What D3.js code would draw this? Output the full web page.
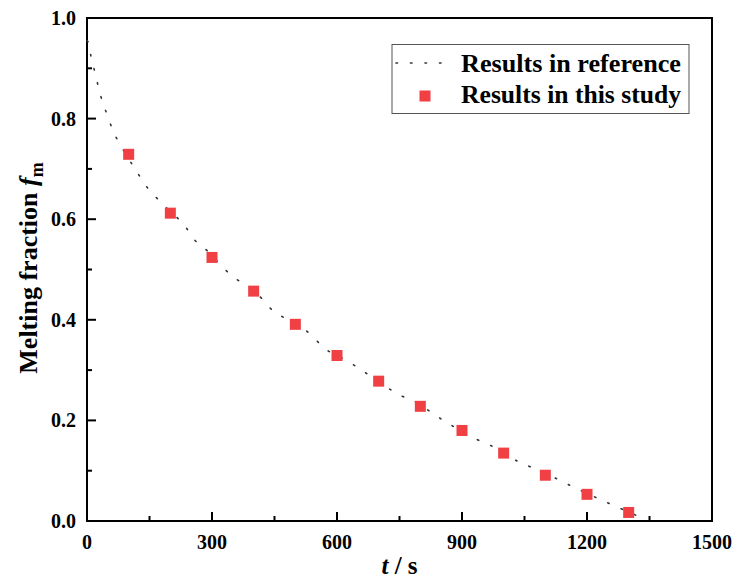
<!DOCTYPE html>
<html><head><meta charset="utf-8">
<script src="https://cdn.jsdelivr.net/npm/d3@7/dist/d3.min.js"></script>
<style>body{margin:0;background:#fff}svg{display:block}text{font-family:"Liberation Serif","Times New Roman",serif;font-weight:bold}</style>
</head><body>
<script>
const refT = [0, 4.8, 10.3, 20, 28, 37.7, 51, 61.7, 79, 100, 120.8, 139, 163, 189, 239, 256, 285, 335, 421, 446, 478, 538, 565, 629, 659, 719, 754, 783, 842, 875, 941, 974, 1035, 1069, 1137, 1166, 1234, 1269, 1338];
const refF = [0.955, 0.948, 0.919, 0.890, 0.860, 0.832, 0.802, 0.777, 0.749, 0.720, 0.693, 0.669, 0.646, 0.624, 0.582, 0.561, 0.540, 0.497, 0.441, 0.418, 0.402, 0.370, 0.347, 0.316, 0.300, 0.266, 0.249, 0.239, 0.207, 0.190, 0.160, 0.148, 0.118, 0.106, 0.080, 0.068, 0.042, 0.029, 0.004];
// This study
const studyT = [100, 200, 300, 400, 500, 600, 700, 800, 900, 1000, 1100, 1200, 1300];
const studyF = [0.729, 0.612, 0.524, 0.457, 0.391, 0.329, 0.278, 0.228, 0.180, 0.135, 0.091, 0.053, 0.017];
const xTicks = [0, 300, 600, 900, 1200, 1500];
const yTicks = [0.0, 0.2, 0.4, 0.6, 0.8, 1.0];
const legendLabels = ["Results in reference", "Results in this study"];

const W = 736, H = 580;
const m = {l: 87, r: 24, t: 18, b: 59};
const svg = d3.select("body").append("svg").attr("width", W).attr("height", H);
const x = d3.scaleLinear().domain([0, 1500]).range([m.l, W - m.r]);
const y = d3.scaleLinear().domain([0, 1.0]).range([H - m.b, m.t]);

// minor ticks
const xMinor = d3.range(150, 1500, 300);
const yMinor = d3.range(0.1, 1.0, 0.2);
const g = svg.append("g");
g.selectAll(".xmin").data(xMinor).join("line")
  .attr("x1", d => x(d)).attr("x2", d => x(d)).attr("y1", y(0)).attr("y2", y(0) - 5)
  .attr("stroke", "#000").attr("stroke-width", 2);
g.selectAll(".xmaj").data(xTicks).join("line")
  .attr("x1", d => x(d)).attr("x2", d => x(d)).attr("y1", y(0)).attr("y2", y(0) - 9)
  .attr("stroke", "#000").attr("stroke-width", 2);
g.selectAll(".ymin").data(yMinor).join("line")
  .attr("y1", d => y(d)).attr("y2", d => y(d)).attr("x1", x(0)).attr("x2", x(0) + 5)
  .attr("stroke", "#000").attr("stroke-width", 2);
g.selectAll(".ymaj").data(yTicks).join("line")
  .attr("y1", d => y(d)).attr("y2", d => y(d)).attr("x1", x(0)).attr("x2", x(0) + 9)
  .attr("stroke", "#000").attr("stroke-width", 2);

// tick labels
g.selectAll(".xl").data(xTicks).join("text")
  .attr("x", d => x(d)).attr("y", y(0) + 28).attr("text-anchor", "middle")
  .attr("font-size", 20).text(d => d);
g.selectAll(".yl").data(yTicks).join("text")
  .attr("x", x(0) - 11).attr("y", d => y(d)).attr("dy", "0.35em").attr("text-anchor", "end")
  .attr("font-size", 20).text(d => d.toFixed(1));

// frame
svg.append("rect").attr("x", x(0)).attr("y", y(1)).attr("width", x(1500) - x(0)).attr("height", y(0) - y(1))
  .attr("fill", "none").attr("stroke", "#000").attr("stroke-width", 2);

// reference curve
const line = d3.line().x(d => x(d[0])).y(d => y(d[1])).curve(d3.curveMonotoneX);
svg.append("path").datum(refT.map((t, i) => [t, refF[i]]))
  .attr("d", line).attr("fill", "none").attr("stroke", "#333")
  .attr("stroke-width", 1.6).attr("stroke-dasharray", "1.5,13").attr("stroke-linecap", "round");

// study points
const sq = 11;
svg.selectAll(".sq").data(studyT.map((t, i) => [t, studyF[i]])).join("rect")
  .attr("x", d => x(d[0]) - sq / 2).attr("y", d => y(d[1]) - sq / 2)
  .attr("width", sq).attr("height", sq).attr("fill", "#F04043");

// legend
const lg = svg.append("g");
lg.append("rect").attr("x", 392).attr("y", 44.5).attr("width", 297).attr("height", 69)
  .attr("fill", "#fff").attr("stroke", "#555").attr("stroke-width", 1);
lg.append("line").attr("x1", 396).attr("x2", 443).attr("y1", 63).attr("y2", 63)
  .attr("stroke", "#333").attr("stroke-width", 1.6).attr("stroke-dasharray", "1.5,13").attr("stroke-linecap", "round");
lg.append("rect").attr("x", 425 - sq / 2).attr("y", 96 - sq / 2).attr("width", sq).attr("height", sq).attr("fill", "#F04043");
lg.selectAll(".lt").data(legendLabels).join("text")
  .attr("x", 461).attr("y", (d, i) => 72 + i * 31).attr("font-size", 26)
  .attr("textLength", 220).attr("lengthAdjust", "spacingAndGlyphs").text(d => d);

// axis titles
const xt = svg.append("text").attr("x", (x(0) + x(1500)) / 2).attr("y", 574).attr("text-anchor", "middle").attr("font-size", 25);
xt.append("tspan").attr("font-style", "italic").text("t");
xt.append("tspan").text(" / s");

const yt = svg.append("text").attr("transform", `translate(37,268) rotate(-90)`)
  .attr("text-anchor", "middle").attr("font-size", 26);
yt.append("tspan").text("Melting fraction ");
yt.append("tspan").attr("font-style", "italic").text("f");
yt.append("tspan").attr("font-size", 18).attr("dy", 6).text("m");
</script>
</body></html>
